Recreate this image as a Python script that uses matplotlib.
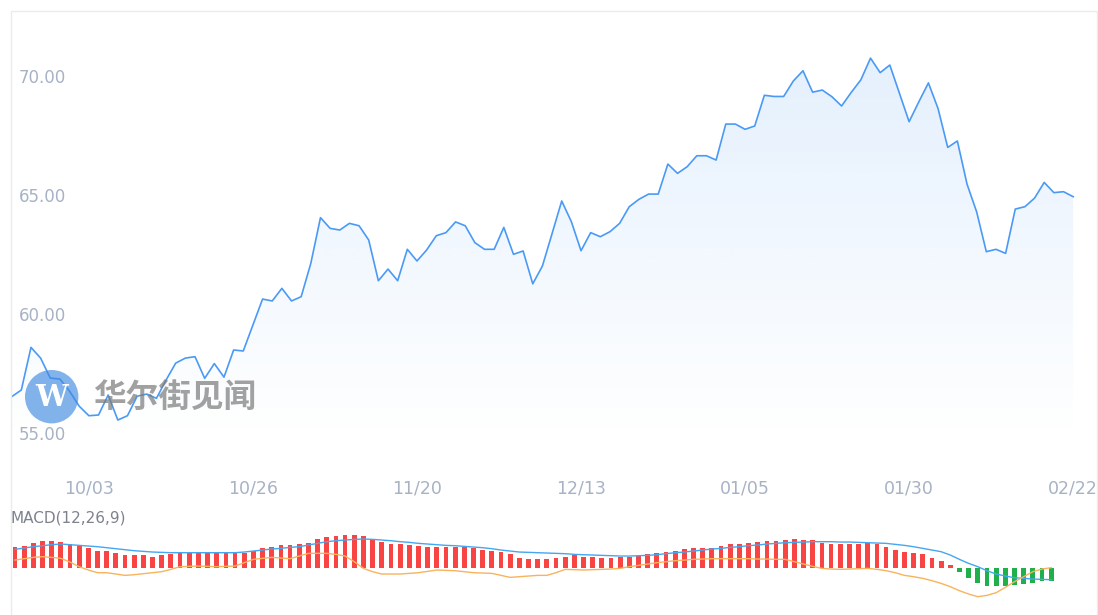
import numpy as np
import matplotlib
matplotlib.use("Agg")
import matplotlib.pyplot as plt
from matplotlib.patches import Circle, Rectangle

W, H = 1098, 615

# daily close, one value per trading day
price = [56.53, 56.81, 58.60, 58.15, 57.31, 57.27, 56.76, 56.13, 55.73, 55.76,
         56.60, 55.55, 55.73, 56.55, 56.64, 56.46, 57.23, 57.94, 58.15, 58.21,
         57.30, 57.92, 57.35, 58.49, 58.45, 59.54, 60.63, 60.55, 61.08, 60.55,
         60.73, 62.13, 64.05, 63.60, 63.53, 63.81, 63.71, 63.11, 61.40, 61.89,
         61.40, 62.72, 62.23, 62.69, 63.29, 63.42, 63.87, 63.71, 63.00, 62.72,
         62.72, 63.64, 62.51, 62.65, 61.27, 62.02, 63.38, 64.75, 63.88, 62.66,
         63.42, 63.25, 63.46, 63.81, 64.51, 64.82, 65.04, 65.04, 66.30, 65.91,
         66.19, 66.65, 66.65, 66.47, 67.98, 67.98, 67.76, 67.90, 69.19, 69.14,
         69.14, 69.79, 70.22, 69.32, 69.41, 69.13, 68.74, 69.31, 69.84, 70.75,
         70.14, 70.46, 69.27, 68.08, 68.91, 69.71, 68.63, 67.00, 67.27, 65.46,
         64.29, 62.62, 62.72, 62.55, 64.41, 64.51, 64.87, 65.53, 65.10, 65.14,
         64.93]

date_labels = ["10/03", "10/26", "11/20", "12/13", "01/05", "01/30", "02/22"]
date_idx = [8, 25, 42, 59, 76, 93, 110]
y_ticks = [55, 60, 65, 70]

# MACD(12,26,9) panel
macd_hist = [0.63, 0.66, 0.75, 0.79, 0.79, 0.76, 0.72, 0.66, 0.58, 0.51,
             0.50, 0.45, 0.38, 0.37, 0.37, 0.33, 0.37, 0.40, 0.43, 0.43,
             0.43, 0.43, 0.43, 0.43, 0.43, 0.43, 0.50, 0.58, 0.63, 0.67,
             0.69, 0.70, 0.75, 0.86, 0.91, 0.96, 0.99, 0.99, 0.95, 0.85,
             0.78, 0.72, 0.70, 0.67, 0.64, 0.63, 0.62, 0.62, 0.62, 0.62,
             0.58, 0.53, 0.50, 0.48, 0.41, 0.28, 0.26, 0.25, 0.26, 0.28,
             0.33, 0.38, 0.33, 0.31, 0.30, 0.30, 0.31, 0.33, 0.36, 0.40,
             0.43, 0.48, 0.51, 0.55, 0.58, 0.58, 0.58, 0.65, 0.70, 0.71,
             0.73, 0.76, 0.79, 0.80, 0.82, 0.86, 0.83, 0.82, 0.75, 0.72,
             0.70, 0.70, 0.72, 0.73, 0.70, 0.63, 0.53, 0.46, 0.45, 0.41,
             0.29, 0.21, 0.08, -0.12, -0.32, -0.45, -0.55, -0.55, -0.54, -0.52,
             -0.49, -0.45, -0.41, -0.39]

macd_dif = [0.55, 0.59, 0.63, 0.66, 0.69, 0.71, 0.69, 0.67, 0.65, 0.63,
            0.60, 0.57, 0.54, 0.51, 0.49, 0.47, 0.46, 0.45, 0.45, 0.45,
            0.45, 0.45, 0.45, 0.45, 0.45, 0.47, 0.50, 0.53, 0.56, 0.58,
            0.61, 0.63, 0.68, 0.73, 0.78, 0.81, 0.83, 0.85, 0.86, 0.85,
            0.83, 0.81, 0.78, 0.76, 0.73, 0.71, 0.69, 0.67, 0.66, 0.64,
            0.62, 0.60, 0.57, 0.53, 0.50, 0.47, 0.46, 0.45, 0.44, 0.43,
            0.42, 0.40, 0.39, 0.38, 0.37, 0.36, 0.35, 0.35, 0.36, 0.37,
            0.39, 0.42, 0.45, 0.47, 0.50, 0.53, 0.56, 0.58, 0.61, 0.63,
            0.66, 0.68, 0.71, 0.73, 0.75, 0.76, 0.77, 0.78, 0.78, 0.78,
            0.77, 0.77, 0.76, 0.75, 0.74, 0.73, 0.70, 0.67, 0.63, 0.58,
            0.53, 0.48, 0.38, 0.25, 0.13, 0.03, -0.09, -0.19, -0.25, -0.30,
            -0.32, -0.34, -0.35, -0.36]

macd_dea = [0.23, 0.27, 0.31, 0.33, 0.31, 0.28, 0.17, 0.03, -0.07, -0.15,
            -0.15, -0.19, -0.23, -0.21, -0.18, -0.15, -0.12, -0.05, 0.03, 0.04,
            0.05, 0.04, 0.03, 0.04, 0.05, 0.15, 0.25, 0.28, 0.31, 0.29,
            0.27, 0.35, 0.43, 0.43, 0.43, 0.40, 0.35, 0.18, -0.02, -0.12,
            -0.19, -0.19, -0.19, -0.17, -0.15, -0.11, -0.07, -0.08, -0.09, -0.12,
            -0.15, -0.16, -0.17, -0.23, -0.29, -0.27, -0.25, -0.23, -0.23, -0.15,
            -0.05, -0.06, -0.07, -0.06, -0.05, -0.04, -0.02, 0.03, 0.07, 0.11,
            0.15, 0.18, 0.21, 0.23, 0.25, 0.26, 0.27, 0.27, 0.27, 0.27,
            0.27, 0.26, 0.26, 0.25, 0.25, 0.18, 0.11, 0.04, -0.02, -0.04,
            -0.05, -0.04, -0.03, -0.02, -0.05, -0.09, -0.15, -0.23, -0.27, -0.32,
            -0.39, -0.47, -0.57, -0.69, -0.79, -0.87, -0.83, -0.75, -0.59, -0.42,
            -0.27, -0.12, -0.04, 0.00]


def px_box(left, top, right, bottom):
    # pixel box -> figure fraction [l, b, w, h]
    return [left / W, 1 - bottom / H, (right - left) / W, (bottom - top) / H]


fig = plt.figure(figsize=(W / 100, H / 100), dpi=100)
fig.patch.set_facecolor("white")

# price chart
ax = fig.add_axes(px_box(11, 11, 1097, 460))
x = np.arange(len(price))
y_lo, y_hi = 53.87, 72.73
ax.set_xlim(-0.07, 112.47)
ax.set_ylim(y_lo, y_hi)

ax.plot(x, price, color="#4a9af5", lw=1.2, zorder=3)
area = ax.fill_between(x, price, y_lo, color="none", lw=0)

# gradient under the line
grad = np.zeros((256, 1, 4))
grad[..., 0] = 64 / 255
grad[..., 1] = 150 / 255
grad[..., 2] = 245 / 255
grad[..., 3] = np.linspace(0.0, 0.14, 256).reshape(-1, 1)
img = ax.imshow(grad, origin="lower", aspect="auto",
                extent=[x[0], x[-1], y_lo + 0.8, max(price)], zorder=2)
img.set_clip_path(area.get_paths()[0], transform=ax.transData)

ax.set_xticks(date_idx, date_labels)
ax.set_yticks(y_ticks, [f"{v:.2f}" for v in y_ticks])
ax.tick_params(axis="x", length=0, pad=14, labelsize=12.5, labelcolor="#a7b2c5")
ax.tick_params(axis="y", length=0, pad=-5.8, labelsize=12, labelcolor="#a7b2c5")
for lab in ax.get_yticklabels():
    lab.set_horizontalalignment("left")
for s in ax.spines.values():
    s.set_visible(False)

# MACD panel
ax2 = fig.add_axes(px_box(11, 525, 1097, 615))
xm = np.arange(len(macd_hist))
ax2.set_xlim(-0.436, 118.0)
ax2.set_ylim(-1.419, 1.281)
bar_colors = ["#f94444" if v >= 0 else "#1fb04c" for v in macd_hist]
ax2.bar(xm, macd_hist, width=0.52, color=bar_colors, zorder=1)
ax2.plot(xm, macd_dif, color="#45a6f2", lw=1.0, zorder=2)
ax2.plot(xm, macd_dea, color="#f8b35c", lw=1.0, zorder=2)
ax2.axis("off")

# overlay in pixel coords: frame, watermark, panel title
ov = fig.add_axes([0, 0, 1, 1])
ov.set_xlim(0, W)
ov.set_ylim(H, 0)
ov.axis("off")
ov.patch.set_visible(False)

ov.add_patch(Rectangle((11, 11), 1086, 620, fill=False, ec="#ebebeb", lw=1))
ov.add_patch(Circle((51.7, 396.7), 26.7, color="#3f8ae0", alpha=0.65, lw=0))
ov.text(51.7, 398, "W", ha="center", va="center", fontsize=21, color="white",
        fontweight="bold", family="DejaVu Serif")
ov.text(175, 397, "华尔街见闻", ha="center", va="center", fontsize=23.5,
        color="#7a7a7a", alpha=0.7, fontweight="bold",
        family=["Noto Sans CJK SC", "DejaVu Sans"])
ov.text(11, 518, "MACD(12,26,9)", ha="left", va="center", fontsize=11,
        color="#7d828c")

fig.savefig("out.png", dpi=100)
